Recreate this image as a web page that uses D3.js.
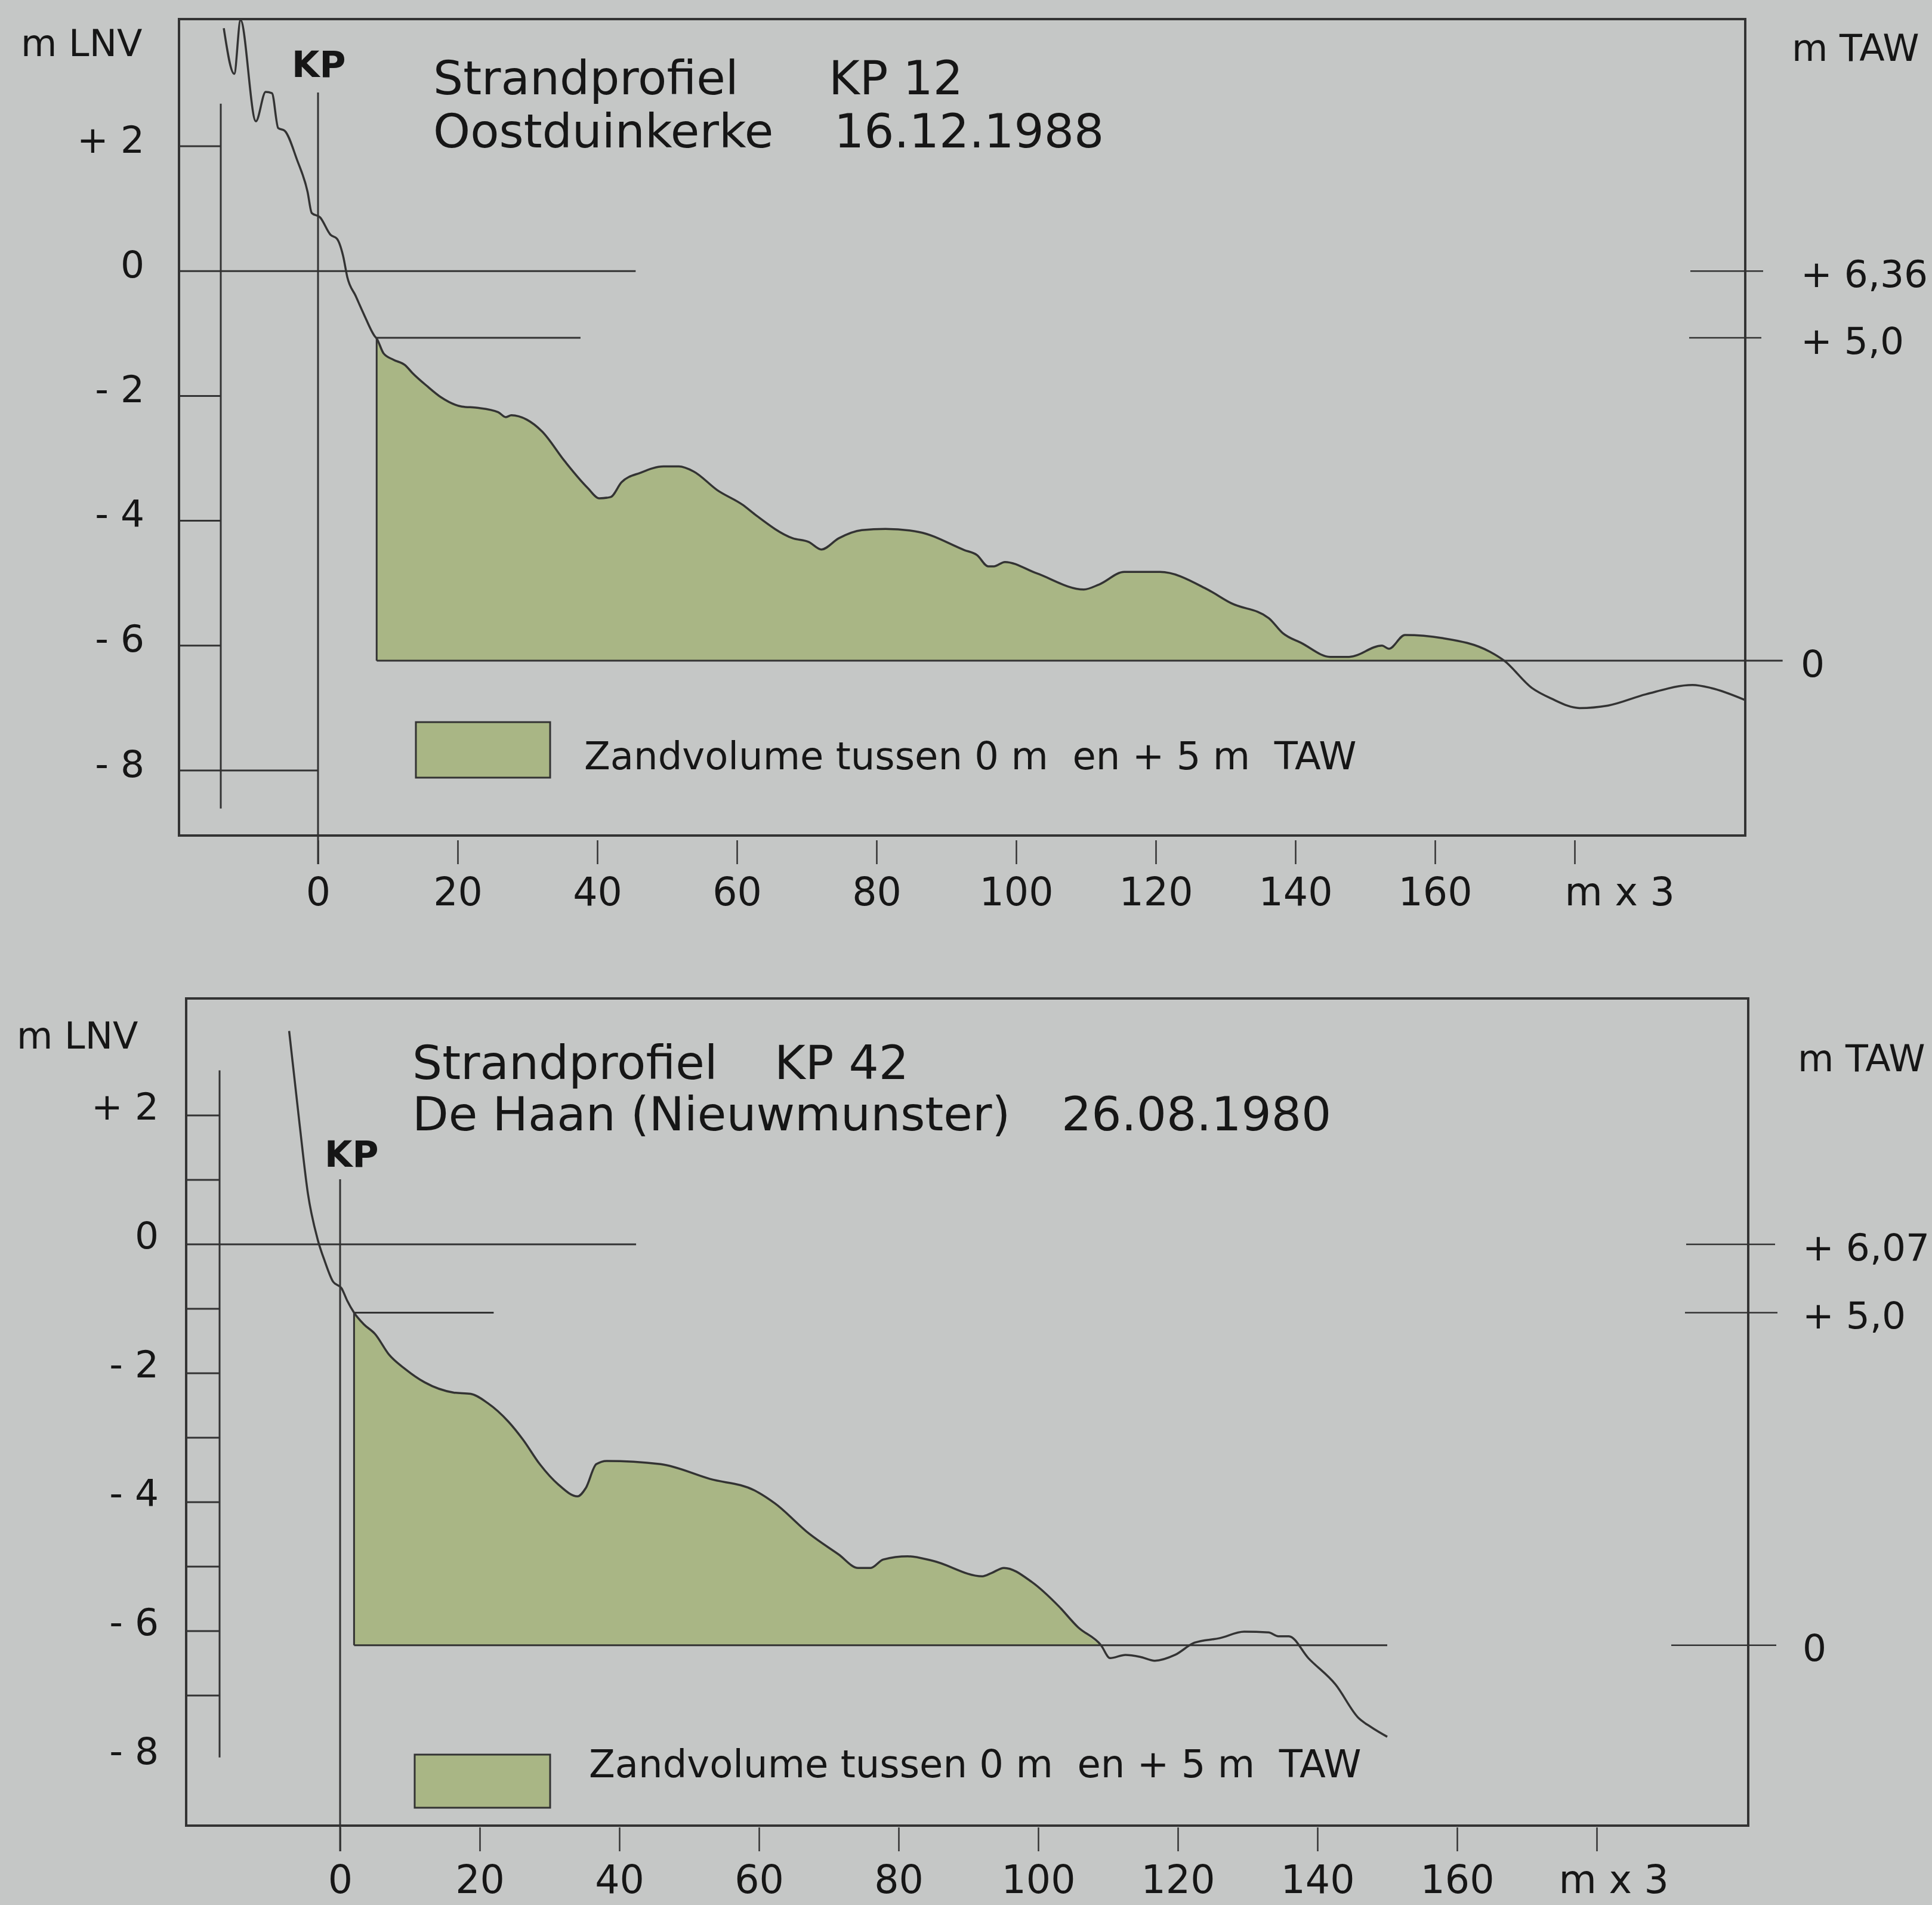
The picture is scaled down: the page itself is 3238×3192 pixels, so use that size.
<!DOCTYPE html>
<html>
<head>
<meta charset="utf-8">
<script src="https://cdn.jsdelivr.net/npm/d3@7"></script>
<style>
  html, body { margin: 0; padding: 0; background: #c5c7c6; }
  svg { display: block; }
</style>
</head>
<body>
<svg id="chart" width="3238" height="3192"></svg>
<script>
// profile readings: [distance (m x 3), height (m LNV)]
const kp12Profile = [
  [-13.5, 3.89], [-12.0, 3.16], [-11.1, 4.02], [-8.9, 2.40], [-7.5, 2.87], [-6.6, 2.85],
  [-5.7, 2.29], [-4.8, 2.25], [-3.0, 1.78], [-1.5, 1.27], [-0.9, 0.93], [0.3, 0.86],
  [1.8, 0.58], [2.7, 0.52], [3.6, 0.24], [4.2, -0.10], [5.4, -0.40], [6.6, -0.70],
  [8.1, -1.04], [8.4, -1.08], [9.4, -1.32], [10.8, -1.42], [12.5, -1.51], [13.5, -1.63],
  [15.7, -1.85], [17.6, -2.02], [20.6, -2.17], [22.8, -2.19], [25.8, -2.26], [26.9, -2.34],
  [27.7, -2.31], [29.9, -2.38], [32.1, -2.57], [35.3, -3.04], [38.6, -3.47], [40.3, -3.64],
  [41.9, -3.62], [43.5, -3.38], [46.2, -3.23], [49.5, -3.13], [51.7, -3.13], [53.8, -3.21],
  [57.2, -3.51], [60.9, -3.75], [62.6, -3.90], [68.0, -4.28], [70.3, -4.34], [72.1, -4.46],
  [74.6, -4.28], [77.9, -4.15], [81.3, -4.13], [86.1, -4.18], [92.6, -4.47], [94.4, -4.55],
  [96.0, -4.73], [96.8, -4.73], [98.4, -4.66], [102.9, -4.84], [109.7, -5.10], [111.9, -5.02],
  [115.5, -4.82], [120.6, -4.82], [127.4, -5.10], [130.8, -5.32], [136.2, -5.56], [138.2, -5.80],
  [140.9, -5.96], [145.0, -6.18], [147.7, -6.18], [152.4, -6.00], [153.4, -6.05], [155.7, -5.83],
  [161.1, -5.88], [167.9, -6.10], [169.9, -6.24], [173.9, -6.68], [176.7, -6.85], [180.7, -7.00],
  [184.8, -6.96], [190.2, -6.78], [196.9, -6.63], [199.6, -6.68], [204.4, -6.87]
];

const kp42Profile = [
  [-7.3, 3.31], [-5.8, 1.86], [-4.6, 0.78], [-3.2, 0.07], [-2.2, -0.26], [-1.0, -0.58],
  [0.2, -0.68], [1.0, -0.87], [2.0, -1.06], [3.4, -1.24], [5.0, -1.39], [7.0, -1.71],
  [9.4, -1.94], [12.1, -2.14], [16.3, -2.30], [18.7, -2.32], [21.1, -2.46], [24.1, -2.75],
  [26.2, -3.03], [28.6, -3.41], [31.3, -3.73], [34.0, -3.91], [35.2, -3.78], [36.7, -3.41],
  [38.2, -3.36], [45.9, -3.41], [53.0, -3.64], [59.4, -3.82], [62.3, -4.02], [67.2, -4.49],
  [71.4, -4.81], [74.2, -5.02], [76.0, -5.02], [77.8, -4.89], [81.3, -4.84], [84.9, -4.91],
  [92.0, -5.15], [93.3, -5.10], [95.1, -5.02], [99.1, -5.24], [102.9, -5.61], [105.7, -5.94],
  [109.0, -6.22], [110.3, -6.42], [112.5, -6.37], [114.6, -6.40], [116.7, -6.46], [119.6, -6.37],
  [122.4, -6.18], [126.0, -6.11], [129.5, -6.01], [133.0, -6.02], [134.4, -6.08], [135.9, -6.08],
  [138.7, -6.42], [142.6, -6.83], [145.9, -7.35], [147.7, -7.49], [150.0, -7.64]
];

const xTickValues = [0, 20, 40, 60, 80, 100, 120, 140, 160, 180];
const lnvLabelValues = [2, 0, -2, -4, -6, -8];
const kp12LnvTicks = [2, -2, -4, -6, -8];
const kp42LnvTicks = [2, 1, -1, -2, -3, -4, -5, -6, -7];

// TAW reference levels, as drawn on the LNV scale
const kp12TawLabels = ["+ 6,36", "+ 5,0", "0"];
const kp12TawLevels = [0, -1.07, -6.24];
const kp42TawLabels = ["+ 6,07", "+ 5,0", "0"];
const kp42TawLevels = [0, -1.06, -6.22];

// sand volume stretch (between +5 and 0 TAW)
const kp12Volume = [8.4, 169.9];
const kp42Volume = [2.0, 109.0];

const kp12Title = [["Strandprofiel", "KP 12"], ["Oostduinkerke", "16.12.1988"]];
const kp42Title = [["Strandprofiel", "KP 42"], ["De Haan (Nieuwmunster)", "26.08.1980"]];
const legendText = "Zandvolume tussen 0 m  en + 5 m  TAW";

const ink = "#161616", stroke = "#333333", green = "#a9b685";
const font = "'DejaVu Sans', Verdana, sans-serif";

const svg = d3.select("#chart");

const charts = [
  {
    profile: kp12Profile, lnvTicks: kp12LnvTicks, tawLabels: kp12TawLabels, tawLevels: kp12TawLevels,
    volume: kp12Volume, title: kp12Title,
    frame: [300, 32, 2925, 1400], xRange: [533, 2639], yRange: [245, 1291],
    innerX: 370, innerSpan: [2.68, -8.61], kpTop: 155, kpTick: -8,
    zeroEnd: 45.5, fiveEnd: 37.6, baseEnd: 209.8,
    tawTicks: [[-92, 30], [-94, 27], null], tawLabelX: 3018,
    lnvLabelX: 242, lnvDy: -12, unitL: [35, 94], unitR: [3003, 102],
    kpLabel: [489, 129], titleX: [726, 1389, 1398], titleY: [158, 247],
    legend: [697, 1210, 225, 93, 979, 1289],
    axisY: 1408, tickPad: 23, mx3: -17
  },
  {
    profile: kp42Profile, lnvTicks: kp42LnvTicks, tawLabels: kp42TawLabels, tawLevels: kp42TawLevels,
    volume: kp42Volume, title: kp42Title,
    frame: [312, 1673, 2930, 3059], xRange: [570, 2676], yRange: [1869, 2949],
    innerX: 368, innerSpan: [2.70, -7.96], kpTop: 1976, kpTick: null,
    zeroEnd: 42.4, fiveEnd: 22.0, baseEnd: 150.0,
    tawTicks: [[-104, 45], [-106, 49], [-129, 47]], tawLabelX: 3021,
    lnvLabelX: 266, lnvDy: -16, unitL: [28, 1757], unitR: [3013, 1795],
    kpLabel: [544, 1955], titleX: [691, 1298, 1779], titleY: [1808, 1894],
    legend: [695, 2940, 227, 89, 987, 2978],
    axisY: 3062, tickPad: 24, mx3: -64
  }
];

charts.forEach(drawProfile);

function drawProfile(c) {
  const g = svg.append("g");
  const x = d3.scaleLinear().domain([0, 180]).range(c.xRange);
  const y = d3.scaleLinear().domain([2, -8]).range(c.yRange);
  const [fx0, fy0, fx1, fy1] = c.frame;
  const base = c.tawLevels[2], plus5 = c.tawLevels[1];

  // sand volume
  const inside = c.profile.filter(d => d[0] >= c.volume[0] && d[0] <= c.volume[1]);
  const area = d3.area()
    .x(d => x(d[0])).y0(y(base)).y1(d => y(d[1]))
    .curve(d3.curveMonotoneX);
  g.append("path").datum(inside).attr("d", area).attr("fill", green);

  // frame
  g.append("rect")
    .attr("x", fx0).attr("y", fy0).attr("width", fx1 - fx0).attr("height", fy1 - fy0)
    .attr("fill", "none").attr("stroke", stroke).attr("stroke-width", 4);

  const line = (x1, y1, x2, y2, w) => g.append("line")
    .attr("x1", x1).attr("y1", y1).attr("x2", x2).attr("y2", y2)
    .attr("stroke", stroke).attr("stroke-width", w || 3);

  // LNV scale bar
  line(c.innerX, y(c.innerSpan[0]), c.innerX, y(c.innerSpan[1]));
  g.selectAll(".lnvtick").data(c.lnvTicks).enter().append("line")
    .attr("x1", fx0).attr("x2", d => d === c.kpTick ? x(0) : c.innerX)
    .attr("y1", d => y(d)).attr("y2", d => y(d))
    .attr("stroke", stroke).attr("stroke-width", 3);
  g.selectAll(".lnvlab").data(lnvLabelValues).enter().append("text")
    .attr("x", c.lnvLabelX).attr("y", d => y(d) + c.lnvDy).attr("dy", "0.36em")
    .attr("text-anchor", "end").attr("font-size", 63).attr("font-family", font).attr("fill", ink)
    .style("white-space", "pre")
    .text(d => d > 0 ? "+ " + d : d < 0 ? "- " + Math.abs(d) : "0");

  // reference lines
  line(fx0, y(0), x(c.zeroEnd), y(0));
  line(x(c.volume[0]), y(plus5), x(c.fiveEnd), y(plus5));
  line(x(c.volume[0]), y(plus5), x(c.volume[0]), y(base));
  line(x(c.volume[0]), y(base), x(c.baseEnd), y(base));

  // KP line
  line(x(0), c.kpTop, x(0), c.axisY + 40);

  // profile
  const profLine = d3.line().x(d => x(d[0])).y(d => y(d[1])).curve(d3.curveMonotoneX);
  g.append("path").datum(c.profile).attr("d", profLine)
    .attr("fill", "none").attr("stroke", stroke).attr("stroke-width", 3.5)
    .attr("stroke-linejoin", "round");

  // TAW side
  c.tawLevels.forEach((lv, i) => {
    const t = c.tawTicks[i];
    if (t) line(fx1 + t[0], y(lv), fx1 + t[1], y(lv), 2.5);
    g.append("text").attr("x", c.tawLabelX).attr("y", y(lv) + 4).attr("dy", "0.36em")
      .attr("font-size", 63).attr("font-family", font).attr("fill", ink)
      .style("white-space", "pre").text(c.tawLabels[i]);
  });

  // units and KP label
  g.append("text").attr("x", c.unitL[0]).attr("y", c.unitL[1])
    .attr("font-size", 62).attr("font-family", font).attr("fill", ink).text("m LNV");
  g.append("text").attr("x", c.unitR[0]).attr("y", c.unitR[1])
    .attr("font-size", 62).attr("font-family", font).attr("fill", ink).text("m TAW");
  g.append("text").attr("x", c.kpLabel[0]).attr("y", c.kpLabel[1])
    .attr("font-size", 60).attr("font-weight", "bold").attr("font-family", font).attr("fill", ink)
    .text("KP");

  // title
  c.title.forEach((row, i) => {
    g.append("text").attr("x", c.titleX[0]).attr("y", c.titleY[i])
      .attr("font-size", 79).attr("font-family", font).attr("fill", ink).text(row[0]);
    g.append("text").attr("x", c.titleX[1 + i]).attr("y", c.titleY[i])
      .attr("font-size", 79).attr("font-family", font).attr("fill", ink).text(row[1]);
  });

  // legend
  const L = c.legend;
  g.append("rect").attr("x", L[0]).attr("y", L[1]).attr("width", L[2]).attr("height", L[3])
    .attr("fill", green).attr("stroke", stroke).attr("stroke-width", 3);
  g.append("text").attr("x", L[4]).attr("y", L[5])
    .attr("font-size", 64).attr("font-family", font).attr("fill", ink)
    .style("white-space", "pre").text(legendText);

  // distance axis
  const ax = d3.axisBottom(x).tickValues(xTickValues).tickSize(40).tickPadding(c.tickPad)
    .tickFormat(d => d === 180 ? "m x 3" : d);
  const axg = g.append("g").attr("transform", `translate(0,${c.axisY})`).call(ax)
    .attr("font-family", font).attr("font-size", 65).attr("color", ink);
  axg.select(".domain").remove();
  axg.selectAll(".tick line").attr("stroke", stroke).attr("stroke-width", 2.5);
  axg.selectAll(".tick text").filter(d => d === 180)
    .attr("text-anchor", "start").attr("x", c.mx3);
}
</script>
</body>
</html>
